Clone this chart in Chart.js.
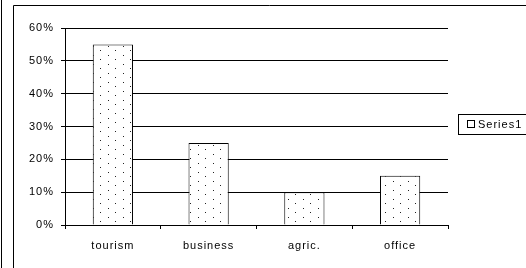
<!DOCTYPE html>
<html>
<head>
<meta charset="utf-8">
<script src="https://cdn.jsdelivr.net/npm/chart.js@4"></script>
<style>
  html, body { margin: 0; padding: 0; background: #fff; }
  #wrap { width: 526px; height: 268px; }
</style>
</head>
<body>
<div id="wrap"><canvas id="chart" width="526" height="268"></canvas></div>
<script>
// chart data
const categories = ["tourism", "business", "agric.", "office"];
const seriesName = "Series1";
const seriesValues = [55, 25, 10, 15];
const yTicks = [0, 10, 20, 30, 40, 50, 60];

const FONT = { family: "'Liberation Sans', Arial, sans-serif", size: 11 };

// dotted fill like the old excel pattern
const makeDots = function () {
  const c = document.createElement("canvas");
  c.width = 15;
  c.height = 9;
  const g = c.getContext("2d");
  g.fillStyle = "#fff";
  g.fillRect(0, 0, 15, 9);
  g.fillStyle = "#222";
  g.fillRect(3, 1, 1, 1);
  g.fillRect(10, 5, 1, 1);
  return g.createPattern(c, "repeat");
};

// frame lines, spacing of the text and the boxed legend
const framePlugin = {
  id: "frame",
  beforeUpdate: function (chart) {
    chart.ctx.letterSpacing = "1px";
  },
  beforeDraw: function (chart) {
    const ctx = chart.ctx;
    ctx.letterSpacing = "1px";
    ctx.save();
    ctx.strokeStyle = "#000";
    ctx.lineWidth = 1;
    ctx.beginPath();
    ctx.moveTo(1.5, 0);
    ctx.lineTo(1.5, 268);
    ctx.moveTo(13.5, 268);
    ctx.lineTo(13.5, 5.5);
    ctx.lineTo(526, 5.5);
    ctx.stroke();
    ctx.restore();
  },
  afterDraw: function (chart) {
    const ctx = chart.ctx;
    ctx.save();
    ctx.strokeStyle = "#000";
    ctx.lineWidth = 1;
    ctx.fillStyle = "#fff";
    ctx.fillRect(458.5, 114.5, 80, 20);
    ctx.strokeRect(458.5, 114.5, 80, 20);
    ctx.strokeRect(467.5, 120.5, 7, 7);
    ctx.fillStyle = "#000";
    ctx.font = "11px " + FONT.family;
    ctx.textBaseline = "middle";
    ctx.fillText(chart.data.datasets[0].label, 478, 124.5);
    ctx.restore();
  },
};

new Chart(document.getElementById("chart"), {
  type: "bar",
  data: {
    labels: categories,
    datasets: [
      {
        label: seriesName,
        data: seriesValues,
        backgroundColor: makeDots(),
        borderColor: "#000",
        borderWidth: 1,
        categoryPercentage: 1,
        barPercentage: 0.42,
      },
    ],
  },
  options: {
    responsive: false,
    animation: false,
    devicePixelRatio: 1,
    layout: { padding: { left: 14, top: 28, right: 78, bottom: 0 } },
    plugins: {
      legend: { display: false },
      tooltip: { enabled: false },
    },
    scales: {
      x: {
        offset: true,
        grid: {
          display: true,
          offset: true,
          drawOnChartArea: false,
          drawTicks: true,
          tickLength: 4,
          color: "#000",
        },
        border: { color: "#000" },
        ticks: { color: "#000", font: FONT, padding: 10, maxRotation: 0 },
        afterFit: function (scale) {
          scale.height = 43;
        },
      },
      y: {
        min: yTicks[0],
        max: yTicks[yTicks.length - 1],
        afterBuildTicks: function (scale) {
          scale.ticks = yTicks.map((v) => ({ value: v }));
        },
        grid: { color: "#000", tickLength: 4 },
        border: { color: "#000" },
        ticks: {
          color: "#000",
          font: FONT,
          padding: 7,
          callback: function (v) {
            return v + "%";
          },
        },
        afterFit: function (scale) {
          scale.width = 51;
        },
      },
    },
  },
  plugins: [framePlugin],
});
</script>
</body>
</html>
